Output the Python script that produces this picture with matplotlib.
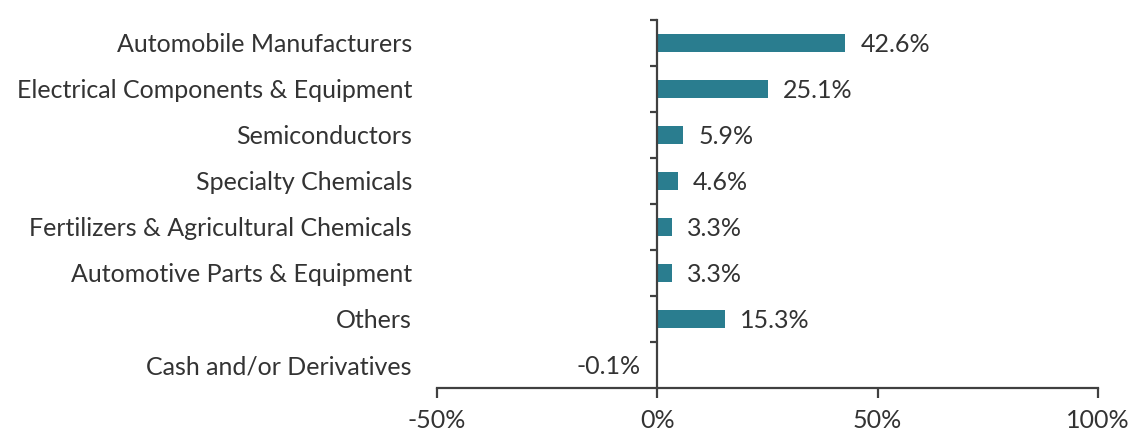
import matplotlib.pyplot as plt
import matplotlib.transforms as mtransforms
import numpy as np

# data
categories = [
    "Automobile Manufacturers",
    "Electrical Components & Equipment",
    "Semiconductors",
    "Specialty Chemicals",
    "Fertilizers & Agricultural Chemicals",
    "Automotive Parts & Equipment",
    "Others",
    "Cash and/or Derivatives",
]
values = [42.6, 25.1, 5.9, 4.6, 3.3, 3.3, 15.3, -0.1]
x_ticks = [-50, 0, 50, 100]

plt.rcParams["font.family"] = ["Lato", "DejaVu Sans"]
bar_color = "#2a7d8f"
text_color = "#333333"
axis_color = "#404040"
fs = 18

fig = plt.figure(figsize=(11.31, 4.33), dpi=100)
ax = fig.add_axes([437 / 1131, 1 - 388 / 433, (1098 - 437) / 1131, (388 - 20) / 433])

y = np.arange(len(categories))
ax.barh(y, values, height=0.4, color=bar_color)

ax.set_xlim(-50, 100)
ax.set_ylim(len(categories) - 0.5, -0.5)

# value labels
for yi, v in zip(y, values):
    if v >= 0:
        ax.annotate(f"{v:.1f}%", (v, yi), xytext=(11, 0), textcoords="offset points",
                    ha="left", va="center_baseline", fontsize=fs, color=text_color)
    else:
        ax.annotate(f"{v:.1f}%", (0, yi), xytext=(-12, 0), textcoords="offset points",
                    ha="right", va="center_baseline", fontsize=fs, color=text_color)

# category labels to the left of the plot
trans = mtransforms.blended_transform_factory(ax.transAxes, ax.transData)
for yi, c in zip(y, categories):
    ax.text(-25 / 661, yi, c, transform=trans, ha="right", va="center_baseline",
            fontsize=fs, color=text_color)

# spines
for s in ["top", "right"]:
    ax.spines[s].set_visible(False)
ax.spines["left"].set_position(("data", 0))
ax.spines["left"].set_color(axis_color)
ax.spines["left"].set_linewidth(1.6)
ax.spines["bottom"].set_color(axis_color)
ax.spines["bottom"].set_linewidth(1.6)

ax.set_yticks(np.arange(-0.5, len(categories) - 0.5, 1))
ax.set_yticklabels([])
ax.tick_params(axis="y", length=5, width=1.6, color=axis_color, direction="out")

ax.set_xticks(x_ticks)
ax.set_xticklabels([f"{t}%" for t in x_ticks])
ax.tick_params(axis="x", length=7, width=1.6, color=axis_color, labelsize=fs,
               labelcolor=text_color, pad=8)

plt.savefig("out.png", dpi=100)
